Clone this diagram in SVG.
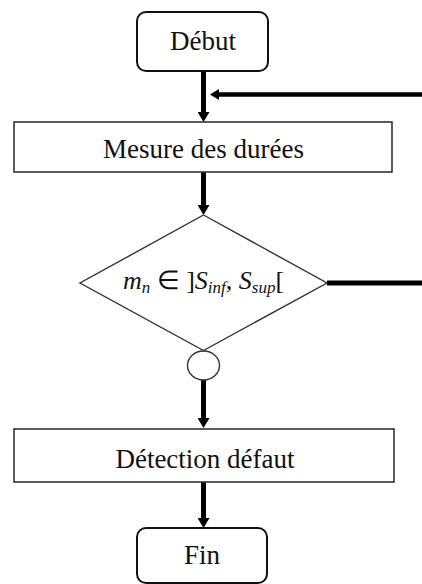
<svg xmlns="http://www.w3.org/2000/svg" width="422" height="584" viewBox="0 0 422 584">
<style>
.term{fill:#fff;stroke:#111;stroke-width:2}
.box{fill:#fff;stroke:#333;stroke-width:1.6}
.dec{fill:#fff;stroke:#333;stroke-width:1.4}
.lbl{font-family:"Liberation Serif","Times New Roman",serif;font-size:27px;fill:#111;text-anchor:middle}
.math{font-family:"Liberation Serif","Times New Roman",serif;font-size:26px;fill:#111;text-anchor:middle}
.sub{font-size:17px}
.conn{stroke:#000;fill:none}
</style>
<defs>
<marker id="arr" markerUnits="strokeWidth" markerWidth="2.4" markerHeight="2.4" refX="0" refY="1.2" orient="auto" viewBox="0 0 2 2.4">
<path d="M0,0 L2,1.2 L0,2.4 z" fill="#000"/>
</marker>
</defs>
<rect width="422" height="584" fill="#fff"/>
<g id="connectors">
<line class="conn" x1="203.5" y1="71" x2="203.5" y2="112" stroke-width="5" marker-end="url(#arr)"/>
<line class="conn" x1="422" y1="94.5" x2="219" y2="94.5" stroke-width="4.5" marker-end="url(#arr)"/>
<line class="conn" x1="203.5" y1="172" x2="203.5" y2="205" stroke-width="5" marker-end="url(#arr)"/>
<line class="conn" x1="327" y1="283" x2="422" y2="283" stroke-width="5"/>
<line class="conn" x1="203.5" y1="380" x2="203.5" y2="418" stroke-width="5" marker-end="url(#arr)"/>
<line class="conn" x1="203.5" y1="482" x2="203.5" y2="518" stroke-width="5" marker-end="url(#arr)"/>
</g>
<g id="debut">
<rect class="term" x="137" y="12" width="131" height="59" rx="9"/>
<text class="lbl" x="203" y="50">Début</text>
</g>
<g id="mesure">
<rect class="box" x="14" y="122" width="378" height="50"/>
<text class="lbl" x="203.5" y="158">Mesure des durées</text>
</g>
<g id="decision">
<polygon class="dec" points="203.5,215 327,283 203.5,350.5 80,283"/>
<text class="math" x="203.5" y="289"><tspan font-style="italic">m</tspan><tspan class="sub" font-style="italic" dy="4">n</tspan><tspan dy="-4"> ∈ ]</tspan><tspan font-style="italic">S</tspan><tspan class="sub" font-style="italic" dy="4">inf</tspan><tspan font-style="italic" dy="-4">, S</tspan><tspan class="sub" font-style="italic" dy="4">sup</tspan><tspan dy="-4">[</tspan></text>
</g>
<g id="jonction">
<ellipse class="dec" cx="203.5" cy="365.5" rx="16" ry="14.5"/>
</g>
<g id="detection">
<rect class="box" x="14" y="429" width="380" height="53"/>
<text class="lbl" x="205" y="468">Détection défaut</text>
</g>
<g id="fin">
<rect class="term" x="137" y="528" width="130" height="55" rx="9"/>
<text class="lbl" x="202" y="564">Fin</text>
</g>
</svg>
